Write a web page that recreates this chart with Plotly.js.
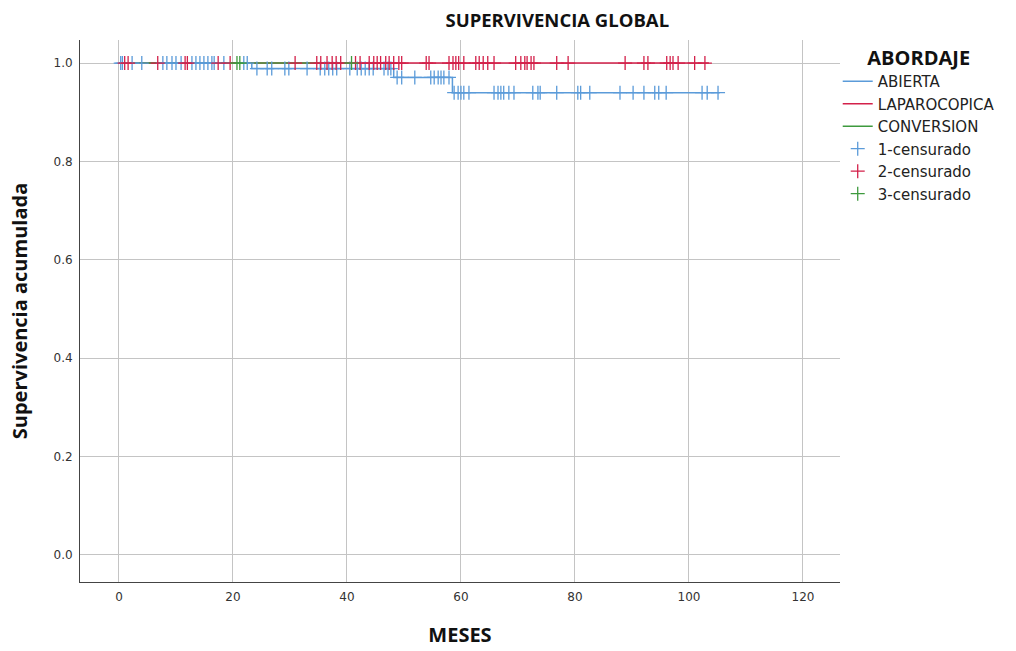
<!DOCTYPE html>
<html>
<head>
<meta charset="utf-8">
<script src="https://cdn.plot.ly/plotly-3.0.1.min.js"></script>
<style>html,body{margin:0;padding:0;background:#fff;}#chart{width:1016px;height:651px;}</style>
</head>
<body>
<div id="chart"></div>
<script>
// Kaplan-Meier step curves (time in months, cumulative survival)
const abiertaX = [0, 23.3, 48.2, 58.5, 105.4];
const abiertaY = [1.0, 0.989, 0.971, 0.940, 0.940];
const laparoX = [0, 103.5];
const laparoY = [1.0, 1.0];
const conversionX = [0, 40.8];
const conversionY = [1.0, 1.0];

// Censored observation times
const abiertaCens = [0.3, 0.6, 2.3, 4.0, 7.7, 8.4, 9.3, 10.0, 10.9, 12.8, 13.5, 14.2, 14.9, 15.6, 16.3, 16.7, 18.4, 21.9, 22.5,
  24.2, 26.0, 26.8, 29.1, 29.8, 33.0, 35.3, 36.1, 36.8, 37.5, 38.2, 40.5, 41.8, 42.5, 43.2, 43.9, 44.6, 46.5, 47.2, 47.7,
  48.8, 49.6, 51.9, 54.7, 55.3, 56.0, 56.5, 57.0, 57.9,
  58.8, 59.5, 60.0, 60.5, 61.4, 65.8, 66.5, 67.0, 67.5, 68.4, 69.3, 72.6, 73.5, 73.9, 76.8, 80.5, 81.0, 82.6, 87.9,
  90.2, 92.1, 94.0, 94.7, 96.0, 102.3, 103.2, 105.1];
const laparoCens = [1.0, 1.6, 6.8, 11.6, 12.0, 17.4, 19.5, 30.9, 34.7, 35.4, 36.5, 37.4, 38.1, 38.9, 41.5, 42.3,
  43.9, 44.7, 45.3, 45.9, 46.8, 47.4, 48.2, 49.1, 49.6, 53.9, 54.4, 57.9, 58.6, 59.1, 59.6, 60.5,
  62.6, 63.2, 63.9, 64.7, 65.8, 69.6, 70.5, 71.2, 71.6, 72.3, 72.8, 76.8, 78.8, 88.8, 92.1, 92.8,
  96.1, 96.7, 97.2, 98.1, 101.0, 102.8];
const conversionCens = [20.7, 21.2, 40.8];

const groupNames = ['ABIERTA', 'LAPAROCOPICA', 'CONVERSION'];
const censNames = ['1-censurado', '2-censurado', '3-censurado'];
const colors = ['#5B9BD9', '#D3214A', '#3E9A3E'];

function survAt(xs, ys, t) {
  let s = ys[0];
  for (let i = 0; i < xs.length; i++) { if (xs[i] <= t) s = ys[i]; }
  return s;
}

const curves = [[abiertaX, abiertaY], [laparoX, laparoY], [conversionX, conversionY]];
const cens = [abiertaCens, laparoCens, conversionCens];

const traces = [];
curves.forEach((c, i) => {
  traces.push({
    x: c[0], y: c[1], type: 'scatter', mode: 'lines', name: groupNames[i],
    line: {shape: 'hv', color: colors[i], width: 1.5}, hoverinfo: 'skip'
  });
});
cens.forEach((t, i) => {
  traces.push({
    x: t, y: t.map(v => survAt(curves[i][0], curves[i][1], v)), type: 'scatter', mode: 'markers',
    name: censNames[i],
    marker: {symbol: 'cross-thin-open', size: 10, color: colors[i], line: {color: colors[i], width: 1.3}},
    hoverinfo: 'skip'
  });
});

const layout = {
  width: 1016, height: 651,
  paper_bgcolor: '#fff', plot_bgcolor: '#fff',
  margin: {l: 80, r: 176, t: 40, b: 69},
  font: {family: 'DejaVu Sans, sans-serif', color: '#222'},
  title: {text: 'SUPERVIVENCIA GLOBAL', font: {family: 'Open Sans, sans-serif', size: 18.5, color: '#111', weight: 'bold'},
    x: 0.628, xref: 'paper', xanchor: 'center', y: 0.968, yanchor: 'middle'},
  xaxis: {
    range: [-6.84, 126.5], tickvals: [0, 20, 40, 60, 80, 100, 120], ticks: '',
    showgrid: true, gridcolor: '#c4c4c4', gridwidth: 1, zeroline: false,
    showline: true, linecolor: '#444', linewidth: 1, tickfont: {size: 12, color: '#333'},
    ticklabelstandoff: 4,
    title: {text: 'MESES', font: {family: 'Open Sans, sans-serif', size: 20, color: '#111', weight: 'bold'}, standoff: 24}
  },
  yaxis: {
    range: [-0.055, 1.047], tickvals: [0, 0.2, 0.4, 0.6, 0.8, 1.0], tickformat: '.1f', ticks: '',
    showgrid: true, gridcolor: '#c4c4c4', gridwidth: 1, zeroline: false,
    showline: true, linecolor: '#444', linewidth: 1, tickfont: {size: 12, color: '#333'},
    ticklabelstandoff: 4,
    title: {text: 'Supervivencia acumulada', font: {family: 'Open Sans, sans-serif', size: 20, color: '#111', weight: 'bold'}, standoff: 20}
  },
  showlegend: true,
  legend: {
    x: 0.997, xanchor: 'left', y: 1.002, yanchor: 'top',
    title: {text: 'ABORDAJE', side: 'top center', font: {family: 'Open Sans, sans-serif', size: 20, color: '#111', weight: 'bold'}},
    font: {family: 'DejaVu Sans, sans-serif', size: 15, color: '#222'},
    itemwidth: 30, tracegroupgap: 0, bgcolor: 'rgba(0,0,0,0)'
  }
};

Plotly.newPlot('chart', traces, layout, {displayModeBar: false, staticPlot: true});
</script>
</body>
</html>
